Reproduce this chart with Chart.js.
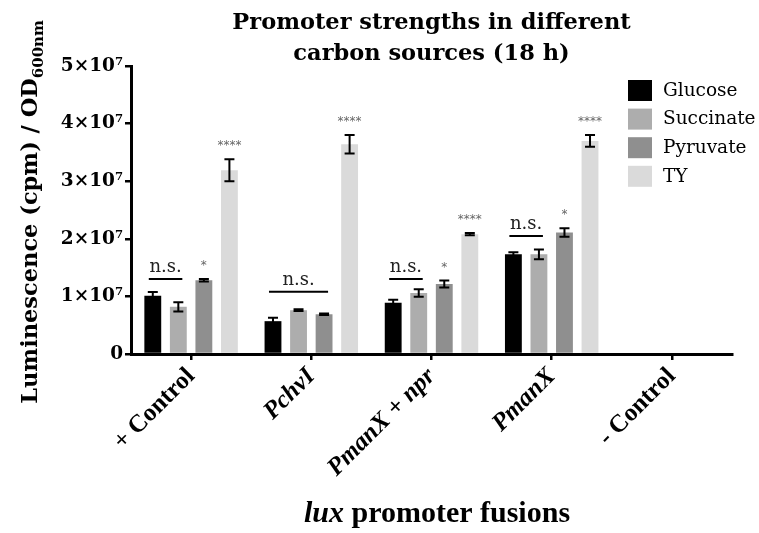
<!DOCTYPE html>
<html>
<head>
<meta charset="utf-8">
<script src="https://cdn.jsdelivr.net/npm/chart.js@4"></script>
<style>
  html, body { margin: 0; padding: 0; background: #fff; }
  #wrap { width: 759px; height: 533px; }
</style>
</head>
<body>
<div id="wrap"><canvas id="chart" width="759" height="533"></canvas></div>
<script>
// ---------------------
// DATA
// ---------------------
const categories = ['+ Control', 'PchvI', 'PmanX + npr', 'PmanX', '- Control'];
const italicLabels = [false, true, true, true, false];
const seriesNames = ['Glucose', 'Succinate', 'Pyruvate', 'TY'];
const seriesColors = ['#000000', '#adadad', '#8f8f8f', '#dadada'];

const glucose   = [1.01e7, 0.57e7, 0.89e7, 1.73e7, 0];
const succinate = [0.82e7, 0.76e7, 1.06e7, 1.73e7, 0];
const pyruvate  = [1.28e7, 0.69e7, 1.215e7, 2.11e7, 0];
const ty        = [3.19e7, 3.64e7, 2.08e7, 3.70e7, 0];

const glucoseErr   = [0.065e7, 0.06e7, 0.05e7, 0.035e7, 0];
const succinateErr = [0.08e7, 0.015e7, 0.065e7, 0.085e7, 0];
const pyruvateErr  = [0.02e7, 0.015e7, 0.06e7, 0.075e7, 0];
const tyErr        = [0.19e7, 0.16e7, 0.02e7, 0.10e7, 0];

// significance marks (per category)
const pyruvateSig = ['*', '', '*', '*', ''];
const tySig       = ['****', '****', '****', '****', ''];
// "n.s." brackets: last dataset index covered and height (data units)
const nsLastSeries = [1, 2, 1, 1, null];
const nsLevel      = [1.30e7, 1.08e7, 1.30e7, 2.05e7, null];

const yTicks = [0, 1e7, 2e7, 3e7, 4e7, 5e7];
const yTickLabels = ['0', '1×10⁷', '2×10⁷', '3×10⁷', '4×10⁷', '5×10⁷'];

const seriesValues = [glucose, succinate, pyruvate, ty];
const seriesErrors = [glucoseErr, succinateErr, pyruvateErr, tyErr];

// ---------------------
// PLUGINS
// ---------------------
const errorBars = {
  id: 'errorBars',
  afterDatasetsDraw(chart) {
    const ctx = chart.ctx;
    const y = chart.scales.y;
    ctx.save();
    ctx.strokeStyle = '#000';
    ctx.lineWidth = 2;
    chart.data.datasets.forEach((ds, di) => {
      const meta = chart.getDatasetMeta(di);
      meta.data.forEach((bar, i) => {
        const err = seriesErrors[di][i];
        if (!err) return;
        const v = ds.data[i];
        const top = y.getPixelForValue(v + err);
        const bot = y.getPixelForValue(v - err);
        const x = bar.x;
        ctx.beginPath();
        ctx.moveTo(x, top); ctx.lineTo(x, bot);
        ctx.moveTo(x - 5, top); ctx.lineTo(x + 5, top);
        ctx.moveTo(x - 5, bot); ctx.lineTo(x + 5, bot);
        ctx.stroke();
      });
    });

    // stars
    ctx.fillStyle = '#666';
    ctx.font = '12px "DejaVu Sans"';
    ctx.textAlign = 'center';
    ctx.textBaseline = 'middle';
    [[2, pyruvateSig], [3, tySig]].forEach(([di, marks]) => {
      const meta = chart.getDatasetMeta(di);
      marks.forEach((m, i) => {
        if (!m) return;
        const top = y.getPixelForValue(seriesValues[di][i] + seriesErrors[di][i]);
        ctx.fillText(m, meta.data[i].x, top - 13);
      });
    });

    // n.s. brackets
    ctx.fillStyle = '#222';
    ctx.font = '18px "DejaVu Serif"';
    ctx.textBaseline = 'alphabetic';
    nsLevel.forEach((lvl, i) => {
      if (lvl === null) return;
      const x0 = chart.getDatasetMeta(0).data[i].x - 4;
      const x1 = chart.getDatasetMeta(nsLastSeries[i]).data[i].x + 4;
      const py = y.getPixelForValue(lvl);
      ctx.beginPath();
      ctx.moveTo(x0, py); ctx.lineTo(x1, py);
      ctx.stroke();
      ctx.fillText('n.s.', (x0 + x1) / 2, py - 7);
    });
    ctx.restore();
  },
  afterDraw(chart) {
    const ctx = chart.ctx;
    const area = chart.chartArea;
    ctx.save();
    ctx.fillStyle = '#000';

    // title
    ctx.font = 'bold 22.5px "DejaVu Serif"';
    ctx.textAlign = 'center';
    ctx.textBaseline = 'alphabetic';
    const cx = (area.left + area.right) / 2;
    ctx.fillText('Promoter strengths in different', cx, 29);
    ctx.fillText('carbon sources (18 h)', cx, 60);

    // legend
    ctx.textAlign = 'left';
    ctx.textBaseline = 'middle';
    ctx.font = '18.5px "DejaVu Serif"';
    seriesNames.forEach((name, i) => {
      const ty0 = 80 + i * 28.6;
      ctx.fillStyle = seriesColors[i];
      ctx.fillRect(628, ty0, 24, 21);
      ctx.fillStyle = '#000';
      ctx.fillText(name, 663, ty0 + 11);
    });

    // y axis title
    ctx.save();
    ctx.translate(31, 212);
    ctx.rotate(-Math.PI / 2);
    const main = 'Luminescence (cpm) / OD';
    ctx.font = 'bold 15px "DejaVu Serif"';
    const subW = ctx.measureText('600nm').width;
    ctx.font = 'bold 22.5px "DejaVu Serif"';
    const mainW = ctx.measureText(main).width;
    const sx = -(mainW + subW) / 2;
    ctx.textAlign = 'left';
    ctx.textBaseline = 'middle';
    ctx.fillText(main, sx, 0);
    ctx.font = 'bold 15px "DejaVu Serif"';
    ctx.fillText('600nm', sx + mainW, 8);
    ctx.restore();

    // x axis title
    ctx.textBaseline = 'alphabetic';
    ctx.textAlign = 'left';
    const a = 'lux';
    const b = ' promoter fusions';
    ctx.font = 'italic bold 30px "Liberation Serif"';
    const aw = ctx.measureText(a).width;
    ctx.font = 'bold 30px "Liberation Serif"';
    const bw = ctx.measureText(b).width;
    const x0 = 437 - (aw + bw) / 2;
    ctx.font = 'italic bold 30px "Liberation Serif"';
    ctx.fillText(a, x0, 522);
    ctx.font = 'bold 30px "Liberation Serif"';
    ctx.fillText(b, x0 + aw, 522);
    ctx.restore();
  }
};

// ---------------------
// CHART
// ---------------------
const ctx = document.getElementById('chart').getContext('2d');

new Chart(ctx, {
  type: 'bar',
  data: {
    labels: categories,
    datasets: seriesNames.map((name, i) => ({
      label: name,
      data: seriesValues[i],
      backgroundColor: seriesColors[i],
      categoryPercentage: 0.85,
      barPercentage: 0.66
    }))
  },
  options: {
    responsive: false,
    animation: false,
    layout: { padding: { top: 66, right: 27, left: 0, bottom: 0 } },
    plugins: {
      legend: { display: false },
      title: { display: false },
      tooltip: { enabled: false }
    },
    scales: {
      x: {
        afterFit(scale) { scale.height = 179; },
        grid: { display: true, drawOnChartArea: false, offset: false, color: '#000', lineWidth: 2.5, tickLength: 6 },
        border: { color: '#000', width: 3 },
        ticks: {
          color: '#000',
          minRotation: 45,
          maxRotation: 45,
          padding: 2,
          font: (c) => ({
            family: '"Liberation Serif"',
            size: 25,
            weight: 'bold',
            style: italicLabels[c.index] ? 'italic' : 'normal'
          })
        }
      },
      y: {
        min: 0,
        max: 5e7,
        afterFit(scale) { scale.width = 131; },
        afterBuildTicks(scale) { scale.ticks = yTicks.map(v => ({ value: v })); },
        grid: { display: true, drawOnChartArea: false, color: '#000', lineWidth: 2.5, tickLength: 6 },
        border: { color: '#000', width: 3 },
        ticks: {
          color: '#000',
          padding: 2,
          font: { family: '"DejaVu Serif"', size: 18.5, weight: 'bold' },
          callback: (v) => yTickLabels[yTicks.indexOf(v)]
        }
      }
    }
  },
  plugins: [errorBars]
});
</script>
</body>
</html>
